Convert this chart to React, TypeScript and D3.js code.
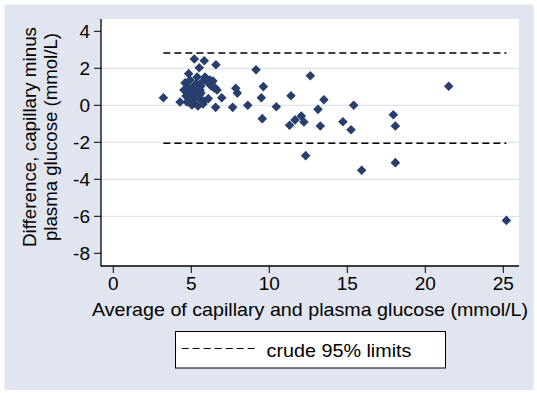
import * as d3 from "d3";

// Bland-Altman: average vs difference (capillary - plasma glucose)
const avgValues = [
	3.21, 4.28, 5.19, 5.83, 5.51, 6.58, 4.83, 7.85, 7.95, 9.15, 9.62, 9.49, 7.65, 8.62, 10.45,
	9.55, 6.56, 6.95, 6.09, 11.39, 12.63, 13.5, 13.12, 15.41, 12.05, 11.65, 12.22, 11.3, 13.27,
	14.72, 15.24, 12.33, 15.92, 17.95, 18.08, 18.08, 21.5, 25.2,
	// dense cluster around 5-7 mmol/L
	4.6, 4.53, 4.66, 4.92, 4.85, 4.92, 5.04, 5.11, 5.24, 5.37, 5.43, 5.49, 5.56, 5.69, 5.81,
	5.88, 6.2, 6.39, 6.46, 6.65, 4.72, 5.17, 5.3, 5.62, 5.62, 6.27, 6.52, 5.24, 4.79, 5.75,
	5.0, 5.35, 5.5, 6.05,
];
const diffValues = [
	0.41, 0.18, 2.5, 2.41, 2.03, 2.19, 1.71, 0.92, 0.66, 1.92, 1.01, 0.41, -0.11, 0.0, -0.08,
	-0.72, -0.11, 0.41, 0.36, 0.52, 1.6, 0.3, -0.22, 0.0, -0.58, -0.79, -0.9, -1.08, -1.12,
	-0.89, -1.32, -2.72, -3.51, -0.51, -1.12, -3.1, 1.03, -6.22,
	1.21, 0.83, 0.5, 1.37, 0.94, 0.29, 0.02, 0.66, 1.1, 1.53, -0.04, 0.39, 0.83, 1.26, 0.23,
	1.53, 1.37, 1.31, 0.94, 0.83, 0.18, 0.12, 1.15, 1.04, 0.66, 1.04, 0.95, 0.45, 0.61, 0.07,
	0.85, 0.75, 0.55, 1.25,
];

const limitValues = [2.83, -2.05];
const xTicks = [0, 5, 10, 15, 20, 25];
const yTicks = [4, 2, 0, -2, -4, -6, -8];
const gridTicks = [2, 0, -2, -4, -6];

const WIDTH = 537;
const HEIGHT = 393;
const PLOT = { left: 101, right: 519, top: 19, bottom: 266 };
const FONT = "'Liberation Sans', Arial, sans-serif";
const FS = 19;
const BG = "#e1e5ef";
const MARKER = "#283f6e";
const GRID = "#dde2ec";

export default function App() {
	const x = d3.scaleLinear().domain([-0.788, 26.006]).range([PLOT.left, PLOT.right]);
	const y = d3.scaleLinear().domain([4.665, -8.686]).range([PLOT.top, PLOT.bottom]);

	const diamond = d3.symbol(d3.symbolSquare, 46)()!;
	const xMin = d3.min(avgValues)!;
	const xMax = d3.max(avgValues)!;

	return (
		<svg
			width={WIDTH}
			height={HEIGHT}
			style={{ position: "absolute", left: 0, top: 0 }}
			fontFamily={FONT}
		>
			<rect x={0} y={0} width={WIDTH} height={HEIGHT} fill="#fff" />
			<rect x={4.5} y={4.5} width={529} height={385.5} fill={BG} />
			<rect
				x={PLOT.left}
				y={PLOT.top}
				width={PLOT.right - PLOT.left}
				height={PLOT.bottom - PLOT.top}
				fill="#fff"
			/>

			{/* grid */}
			{gridTicks.map((t) => (
				<line
					key={t}
					x1={PLOT.left}
					x2={PLOT.right}
					y1={y(t)}
					y2={y(t)}
					stroke={GRID}
					strokeWidth={1.2}
				/>
			))}

			{/* limits of agreement */}
			{limitValues.map((v) => (
				<line
					key={v}
					x1={x(xMin)}
					x2={x(xMax)}
					y1={y(v)}
					y2={y(v)}
					stroke="#000"
					strokeWidth={1.5}
					strokeDasharray="7 4"
				/>
			))}

			{/* points */}
			{avgValues.map((a, i) => (
				<path
					key={i}
					d={diamond}
					fill={MARKER}
					transform={`translate(${x(a)},${y(diffValues[i])}) rotate(45)`}
				/>
			))}

			{/* axes */}
			<line x1={PLOT.left} x2={PLOT.left} y1={PLOT.top} y2={PLOT.bottom + 0.5} stroke="#000" strokeWidth={1.3} />
			<line x1={PLOT.left} x2={PLOT.right} y1={PLOT.bottom} y2={PLOT.bottom} stroke="#000" strokeWidth={1.3} />

			{yTicks.map((t) => (
				<g key={t}>
					<line x1={PLOT.left - 7} x2={PLOT.left} y1={y(t)} y2={y(t)} stroke="#000" strokeWidth={1} />
					<text x={90} y={y(t) + 6.8} textAnchor="end" fontSize={FS}>
						{t}
					</text>
				</g>
			))}

			{xTicks.map((t) => (
				<g key={t}>
					<line x1={x(t)} x2={x(t)} y1={PLOT.bottom} y2={PLOT.bottom + 7} stroke="#000" strokeWidth={1} />
					<text x={x(t)} y={290} textAnchor="middle" fontSize={FS}>
						{t}
					</text>
				</g>
			))}

			<text
				x={(PLOT.left + PLOT.right) / 2}
				y={315.5}
				textAnchor="middle"
				fontSize={FS}
				textLength={436}
				lengthAdjust="spacingAndGlyphs"
			>
				Average of capillary and plasma glucose (mmol/L)
			</text>

			<g transform="rotate(-90)">
				<text x={-137} y={36} textAnchor="middle" fontSize={FS} textLength={220} lengthAdjust="spacingAndGlyphs">
					Difference, capillary minus
				</text>
				<text x={-137} y={57} textAnchor="middle" fontSize={FS} textLength={208} lengthAdjust="spacingAndGlyphs">
					plasma glucose (mmol/L)
				</text>
			</g>

			{/* legend */}
			<rect x={175.5} y={331.5} width={270} height={36.5} fill="#fff" stroke="#000" strokeWidth={1} />
			<line x1={181.7} x2={255} y1={348.5} y2={348.5} stroke="#000" strokeWidth={1} strokeDasharray="7 4" />
			<text x={266.5} y={357} fontSize={FS} textLength={145} lengthAdjust="spacingAndGlyphs">
				crude 95% limits
			</text>
		</svg>
	);
}
